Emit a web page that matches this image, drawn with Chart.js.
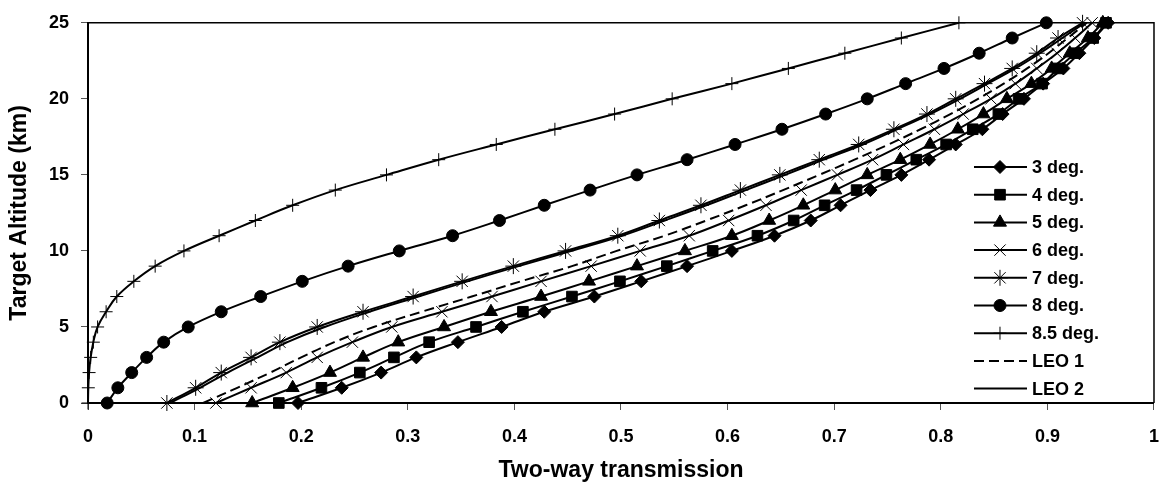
<!DOCTYPE html>
<html>
<head>
<meta charset="utf-8">
<script src="https://cdn.jsdelivr.net/npm/chart.js@4.4.0/dist/chart.umd.min.js"></script>
<style>
    html, body { margin: 0; padding: 0; background: #fff; }
    #wrap { width: 1175px; height: 498px; }
</style>
</head>
<body>
<div id="wrap"><canvas id="myChart" width="1175" height="498"></canvas></div>
<script>
// altitude (km) is the same for every series, one point per km
const altitudes = [0, 1, 2, 3, 4, 5, 6, 7, 8, 9, 10, 11, 12, 13, 14, 15, 16, 17, 18, 19, 20, 21, 22, 23, 24, 25];

// two-way transmission
const deg3 = [0.197, 0.238, 0.275, 0.308, 0.347, 0.388, 0.428, 0.475, 0.519, 0.562, 0.604, 0.644, 0.678, 0.706, 0.734, 0.763, 0.789, 0.814, 0.839, 0.858, 0.878, 0.896, 0.915, 0.930, 0.944, 0.957];
const deg4 = [0.179, 0.219, 0.255, 0.287, 0.320, 0.364, 0.408, 0.454, 0.499, 0.543, 0.586, 0.628, 0.662, 0.691, 0.721, 0.749, 0.777, 0.805, 0.830, 0.854, 0.873, 0.895, 0.910, 0.926, 0.943, 0.955];
const deg5 = [0.154, 0.192, 0.227, 0.258, 0.291, 0.334, 0.378, 0.425, 0.470, 0.515, 0.560, 0.604, 0.639, 0.671, 0.701, 0.731, 0.762, 0.790, 0.816, 0.840, 0.862, 0.885, 0.904, 0.921, 0.938, 0.952];
const deg6 = [0.120, 0.153, 0.186, 0.215, 0.248, 0.285, 0.332, 0.379, 0.425, 0.472, 0.518, 0.564, 0.601, 0.636, 0.669, 0.703, 0.736, 0.765, 0.794, 0.821, 0.847, 0.870, 0.890, 0.909, 0.926, 0.942];
const deg7 = [0.074, 0.101, 0.125, 0.153, 0.180, 0.215, 0.258, 0.305, 0.351, 0.399, 0.448, 0.497, 0.536, 0.575, 0.612, 0.649, 0.686, 0.723, 0.756, 0.787, 0.814, 0.841, 0.867, 0.890, 0.910, 0.933];
const deg8 = [0.018, 0.028, 0.041, 0.055, 0.071, 0.094, 0.125, 0.162, 0.201, 0.244, 0.292, 0.342, 0.386, 0.428, 0.471, 0.515, 0.562, 0.607, 0.651, 0.692, 0.731, 0.767, 0.803, 0.836, 0.867, 0.899];
const deg85 = [0.000, 0.0003, 0.001, 0.0025, 0.005, 0.009, 0.017, 0.027, 0.043, 0.063, 0.090, 0.123, 0.157, 0.192, 0.232, 0.280, 0.329, 0.383, 0.438, 0.494, 0.548, 0.604, 0.657, 0.710, 0.763, 0.817];
const leo1 = [0.108, 0.140, 0.171, 0.200, 0.231, 0.268, 0.313, 0.360, 0.406, 0.454, 0.496, 0.541, 0.580, 0.617, 0.652, 0.686, 0.719, 0.751, 0.781, 0.809, 0.835, 0.859, 0.881, 0.901, 0.919, 0.937];
const leo2 = [0.077, 0.105, 0.131, 0.159, 0.187, 0.222, 0.264, 0.310, 0.356, 0.404, 0.453, 0.501, 0.541, 0.580, 0.617, 0.654, 0.690, 0.727, 0.759, 0.790, 0.818, 0.844, 0.870, 0.893, 0.914, 0.935];

const seriesNames = ['3 deg.', '4 deg.', '5 deg.', '6 deg.', '7 deg.', '8 deg.', '8.5 deg.', 'LEO 1', 'LEO 2'];
const seriesValues = [deg3, deg4, deg5, deg6, deg7, deg8, deg85, leo1, leo2];

const xTitle = 'Two-way transmission';
const yTitle = 'Target Altitude (km)';

// marker look per series
const markers = [
    { style: 'rectRot', r: 6.5 },
    { style: 'rect', r: 7.5 },
    { style: 'triangle', r: 7.5 },
    { style: 'crossRot', r: 8 },
    { style: 'star', r: 8 },
    { style: 'circle', r: 6 },
    { style: 'cross', r: 6.5 },
    { style: false, r: 0, dash: [10, 5] },
    { style: false, r: 0 }
];

const FONT = '"Liberation Sans", Arial, sans-serif';

let datasets = [];
seriesValues.forEach((vals, i) => {
    let m = markers[i];
    datasets.push({
        label: seriesNames[i],
        data: altitudes.map((a, k) => ({ x: vals[k], y: a })),
        borderColor: '#000',
        backgroundColor: '#000',
        borderWidth: 2,
        borderDash: m.dash || [],
        tension: 0.4,
        pointStyle: m.style || 'circle',
        pointRadius: m.r,
        pointBorderWidth: 1,
        pointBorderColor: '#000',
        pointBackgroundColor: '#000',
        clip: false
    });
});

// box round the plot (top and right edges)
const frame = {
    id: 'frame',
    afterDraw(chart) {
        const { left, top, right, bottom } = chart.chartArea;
        const c = chart.ctx;
        c.save();
        c.strokeStyle = '#000';
        c.lineWidth = 1.5;
        c.beginPath();
        c.moveTo(left, top);
        c.lineTo(right, top);
        c.lineTo(right, bottom);
        c.stroke();
        c.restore();
    }
};

// legend drawn inside the plot, lower right
const innerLegend = {
    id: 'innerLegend',
    afterDraw(chart) {
        const c = chart.ctx;
        const area = chart.chartArea;
        const x0 = area.right - 180;
        const y0 = 167;
        const step = 27.7;
        c.save();
        c.font = 'bold 18px ' + FONT;
        c.textBaseline = 'middle';
        c.fillStyle = '#000';
        chart.data.datasets.forEach((ds, i) => {
            const y = y0 + i * step;
            c.strokeStyle = '#000';
            c.lineWidth = ds.borderWidth;
            c.setLineDash(ds.borderDash);
            c.beginPath();
            c.moveTo(x0, y);
            c.lineTo(x0 + 53, y);
            c.stroke();
            c.setLineDash([]);
            if (ds.pointRadius > 0) {
                c.lineWidth = 1;
                Chart.helpers.drawPoint(c, { pointStyle: ds.pointStyle, radius: ds.pointRadius, borderWidth: 1, rotation: 0 }, x0 + 26, y);
            }
            c.fillText(ds.label, x0 + 58, y + 1);
        });
        c.restore();
    }
};

const ctx = document.getElementById('myChart').getContext('2d');
const myChart = new Chart(ctx, {
    type: 'line',
    data: { datasets: datasets },
    options: {
        responsive: false,
        animation: false,
        layout: { padding: { top: 17, right: 8, left: 0, bottom: 0 } },
        plugins: {
            legend: { display: false },
            tooltip: { enabled: false }
        },
        scales: {
            x: {
                type: 'linear',
                min: 0,
                max: 1,
                afterFit: s => { s.height = 95; },
                grid: { drawOnChartArea: false, tickLength: 7, color: '#555', lineWidth: 1 },
                border: { display: true, color: '#000', width: 2 },
                ticks: {
                    stepSize: 0.1,
                    padding: 16,
                    color: '#000',
                    font: { family: FONT, size: 18, weight: 'bold' },
                    callback: v => Number(v.toFixed(1)).toString()
                },
                title: {
                    display: true,
                    text: xTitle,
                    color: '#000',
                    font: { family: FONT, size: 23, weight: 'bold' },
                    padding: { top: 0, bottom: 14 }
                }
            },
            y: {
                type: 'linear',
                min: 0,
                max: 25,
                afterFit: s => { s.width = 88; },
                grid: { drawOnChartArea: false, tickLength: 7, color: '#555', lineWidth: 1 },
                border: { display: true, color: '#000', width: 2 },
                ticks: {
                    stepSize: 5,
                    padding: 12,
                    color: '#000',
                    font: { family: FONT, size: 18, weight: 'bold' }
                },
                title: {
                    display: true,
                    text: yTitle,
                    color: '#000',
                    font: { family: FONT, size: 23, weight: 'bold' },
                    padding: { top: 6, bottom: 0 }
                }
            }
        }
    },
    plugins: [frame, innerLegend]
});
</script>
</body>
</html>
